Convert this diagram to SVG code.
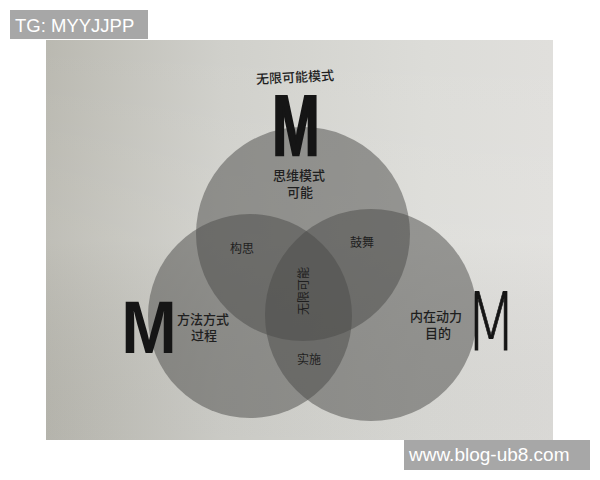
<svg xmlns="http://www.w3.org/2000/svg" width="600" height="480" viewBox="0 0 600 480">
  <defs>
    <linearGradient id="page" x1="0" y1="0" x2="1" y2="0">
      <stop offset="0" stop-color="#bab9b1"/>
      <stop offset="0.35" stop-color="#d0d0cb"/>
      <stop offset="0.75" stop-color="#dcdcd8"/>
      <stop offset="1" stop-color="#e0dfdc"/>
    </linearGradient>
    <linearGradient id="pageV" x1="0" y1="0" x2="0" y2="1">
      <stop offset="0" stop-color="#ffffff" stop-opacity="0"/>
      <stop offset="0.5" stop-color="#ffffff" stop-opacity="0.08"/>
      <stop offset="1" stop-color="#000000" stop-opacity="0.03"/>
    </linearGradient>
  </defs>
  <style>
    .ring { fill: #4a4a48; fill-opacity: 0.5; }
    .lbl { font-family: "Noto Sans CJK SC", "Noto Sans", sans-serif; font-size: 13px; font-weight: 500; fill: #1f1f1f; text-anchor: middle; }
    .sm { font-size: 12px; font-weight: 400; }
    .wm { font-family: "Liberation Sans", Arial, sans-serif; fill: #ffffff; }
    .wmbox { fill: #a7a7a7; }
  </style>

  <rect x="0" y="0" width="600" height="480" fill="#ffffff"/>
  <g id="page-bg">
    <rect x="46" y="40" width="507" height="400" fill="url(#page)"/>
    <rect x="46" y="40" width="507" height="400" fill="url(#pageV)"/>
  </g>

  <g id="title">
    <text class="lbl" x="295" y="82" font-size="15.5" font-weight="700" transform="rotate(-3 295 76)">无限可能模式</text>
  </g>

  <g id="node-thinking">
    <circle class="ring" cx="303" cy="234" r="107"/>
  </g>
  <g id="node-method">
    <circle class="ring" cx="250" cy="316" r="102"/>
  </g>
  <g id="node-motive">
    <circle class="ring" cx="371" cy="315" r="106"/>
  </g>

  <g id="letters">
    <text x="0" y="0" transform="translate(296 155) scale(0.66 1)" font-family="Liberation Sans, Arial, sans-serif" font-weight="700" font-size="86" text-anchor="middle" fill="#151515" stroke="#151515" stroke-width="2.5">M</text>
    <text x="0" y="0" transform="translate(149 353) scale(0.9 1)" font-family="Liberation Sans, Arial, sans-serif" font-weight="700" font-size="74" text-anchor="middle" fill="#151515">M</text>
    <text x="0" y="0" transform="translate(491 350) scale(0.74 1)" font-family="DejaVu Sans, Lato, sans-serif" font-weight="200" font-size="80" text-anchor="middle" fill="#151515" stroke="#151515" stroke-width="0.8">M</text>
  </g>

  <g id="labels-thinking">
    <text class="lbl" x="299" y="180">思维模式</text>
    <text class="lbl" x="300" y="197">可能</text>
  </g>
  <g id="labels-method">
    <text class="lbl" x="203" y="324">方法方式</text>
    <text class="lbl" x="204" y="340">过程</text>
  </g>
  <g id="labels-motive">
    <text class="lbl" x="436" y="321">内在动力</text>
    <text class="lbl" x="438" y="338">目的</text>
  </g>
  <g id="labels-overlaps">
    <text class="lbl sm" x="242" y="253">构思</text>
    <text class="lbl sm" x="362" y="247">鼓舞</text>
    <text class="lbl sm" x="309" y="364">实施</text>
    <text class="lbl sm" x="0" y="0" transform="translate(308 291) rotate(-90)">无限可能</text>
  </g>

  <g id="watermarks">
    <rect class="wmbox" x="10" y="10" width="138" height="29"/>
    <text class="wm" x="15" y="32" font-size="18.5">TG: MYYJJPP</text>
    <rect class="wmbox" x="404" y="440" width="186" height="30"/>
    <text class="wm" x="409" y="461" font-size="19">www.blog-ub8.com</text>
  </g>
</svg>
